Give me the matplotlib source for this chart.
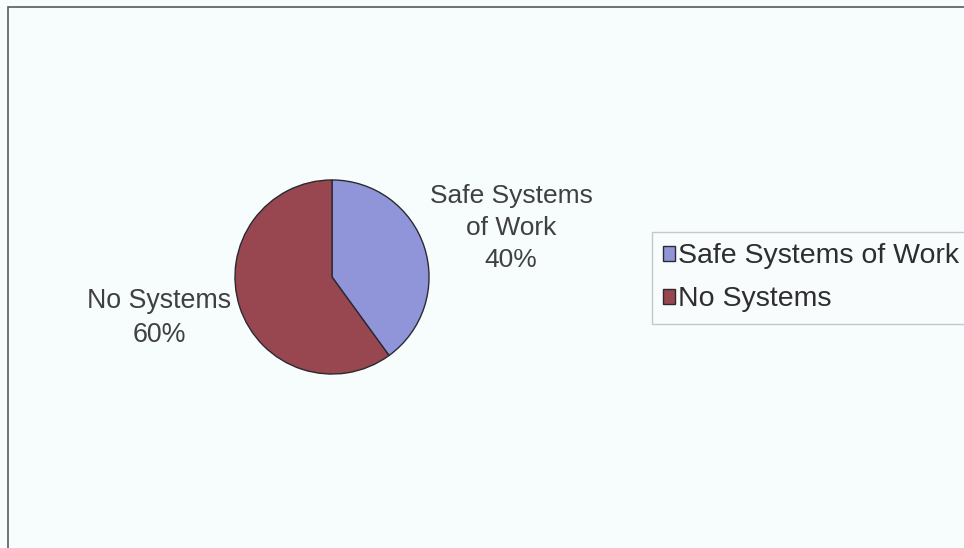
import matplotlib.pyplot as plt
from matplotlib.patches import Rectangle

plt.rcParams['font.family'] = ['Liberation Sans', 'DejaVu Sans']

categories = ["Safe Systems of Work", "No Systems"]
values = [40, 60]
colors = ['#8f95d8', '#98464f']

W, H = 964, 548
fig = plt.figure(figsize=(W / 100, H / 100), dpi=100)
fig.patch.set_facecolor('#f7fcfc')

# outer border (top and left visible, the rest runs off the picture)
fig.add_artist(Rectangle((8 / W, -0.05), 1.1, 1 - 7 / H + 0.05, transform=fig.transFigure,
                         fill=False, edgecolor='#555b60', linewidth=1.2))

# pie axes
cx, cy, r = 332, 277, 98
ax = fig.add_axes([(cx - r) / W, 1 - (cy + r) / H, 2 * r / W, 2 * r / H])
wedges, _ = ax.pie(values, colors=colors, startangle=90, counterclock=False,
                   wedgeprops=dict(edgecolor='#2a2a30', linewidth=1.0))
ax.set_xlim(-1.01, 1.01)
ax.set_ylim(-1.01, 1.01)
ax.set_aspect('equal')
ax.axis('off')

# data labels
fig.text(511 / W, 1 - 228 / H, "Safe Systems\nof Work\n40%", ha='center', va='center',
         fontsize=19, color='#404040', linespacing=1.42)
fig.text(159 / W, 1 - 318 / H, "No Systems\n60%", ha='center', va='center',
         fontsize=19.3, color='#404040', linespacing=1.4)

leg = fig.legend(wedges, categories, loc='upper left', bbox_to_anchor=(652 / W, 1 - 232 / H),
                 borderaxespad=0, fontsize=20.5, frameon=True, fancybox=False,
                 handlelength=0.42, handleheight=0.42, handletextpad=0.08,
                 labelspacing=0.6, borderpad=0.4, labelcolor='#2e2e2e')
leg.get_frame().set_edgecolor('#b8bcc0')
leg.get_frame().set_facecolor('#f9fdfd')
leg.get_frame().set_linewidth(1.0)

fig.savefig('out.png', dpi=100, facecolor=fig.get_facecolor())
